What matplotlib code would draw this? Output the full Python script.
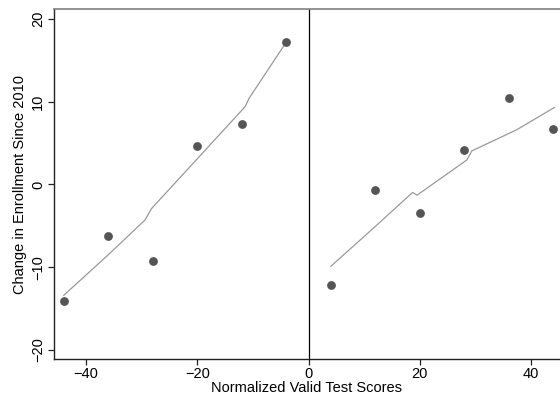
import matplotlib
matplotlib.use("Agg")
import matplotlib.pyplot as plt

plt.rcParams['font.family'] = ['Liberation Sans', 'DejaVu Sans']

# Scatter data
x_left = [-44, -36, -28, -20, -12, -4]
y_left = [-14.1, -6.2, -9.2, 4.6, 7.3, 17.2]
x_right = [4, 12, 20, 28, 36, 44]
y_right = [-12.1, -0.65, -3.5, 4.15, 10.5, 6.7]

# Fitted (smoothed) lines
fit_left_x = [-44, -36, -29.4, -28.2, -20, -11.4, -10.7, -4.2]
fit_left_y = [-13.4, -8.5, -4.3, -2.9, 3.1, 9.4, 10.4, 17.0]
fit_right_x = [4.0, 11.8, 18.7, 19.5, 28.45, 29.35, 37.4, 44.2]
fit_right_y = [-9.9, -5.2, -0.97, -1.3, 2.95, 4.05, 6.6, 9.3]

xticks = [-40, -20, 0, 20, 40]
yticks = [-20, -10, 0, 10, 20]

fig = plt.figure(figsize=(5.6, 4.01), dpi=100)
ax = fig.add_axes([53.5/560, 42/401, 1 - 53.5/560, 350/401])

ax.plot(fit_left_x, fit_left_y, color='#999999', lw=0.9, zorder=2)
ax.plot(fit_right_x, fit_right_y, color='#999999', lw=0.9, zorder=2)
ax.scatter(x_left, y_left, s=40, color='#555555', zorder=3, linewidths=0)
ax.scatter(x_right, y_right, s=40, color='#555555', zorder=3, linewidths=0)
ax.axvline(0, color='black', lw=0.9, zorder=1)

ax.set_xlim(-45.85, 45.2)
ax.set_ylim(-21.1, 21.2)
ax.set_xticks(xticks)
ax.set_yticks(yticks)
ax.set_xticklabels([f"\u2212{abs(t)}" if t < 0 else str(t) for t in xticks], fontsize=10.5)
ax.set_yticklabels([f"\u2212{abs(t)}" if t < 0 else str(t) for t in yticks], fontsize=10.5,
                   rotation=90, va='center')
ax.tick_params(axis='both', length=4, width=0.9, color='#222222', pad=2)

ax.spines['right'].set_visible(False)
ax.spines['top'].set_color('#808080')
ax.spines['top'].set_linewidth(1.2)
ax.spines['left'].set_color('#222222')
ax.spines['bottom'].set_color('#222222')
ax.spines['left'].set_linewidth(1.0)
ax.spines['bottom'].set_linewidth(1.0)

ax.set_xlabel('Normalized Valid Test Scores', fontsize=10.5, labelpad=0)
ax.set_ylabel('Change in Enrollment Since 2010', fontsize=10.5, labelpad=3)

fig.savefig('out.png', dpi=100)
